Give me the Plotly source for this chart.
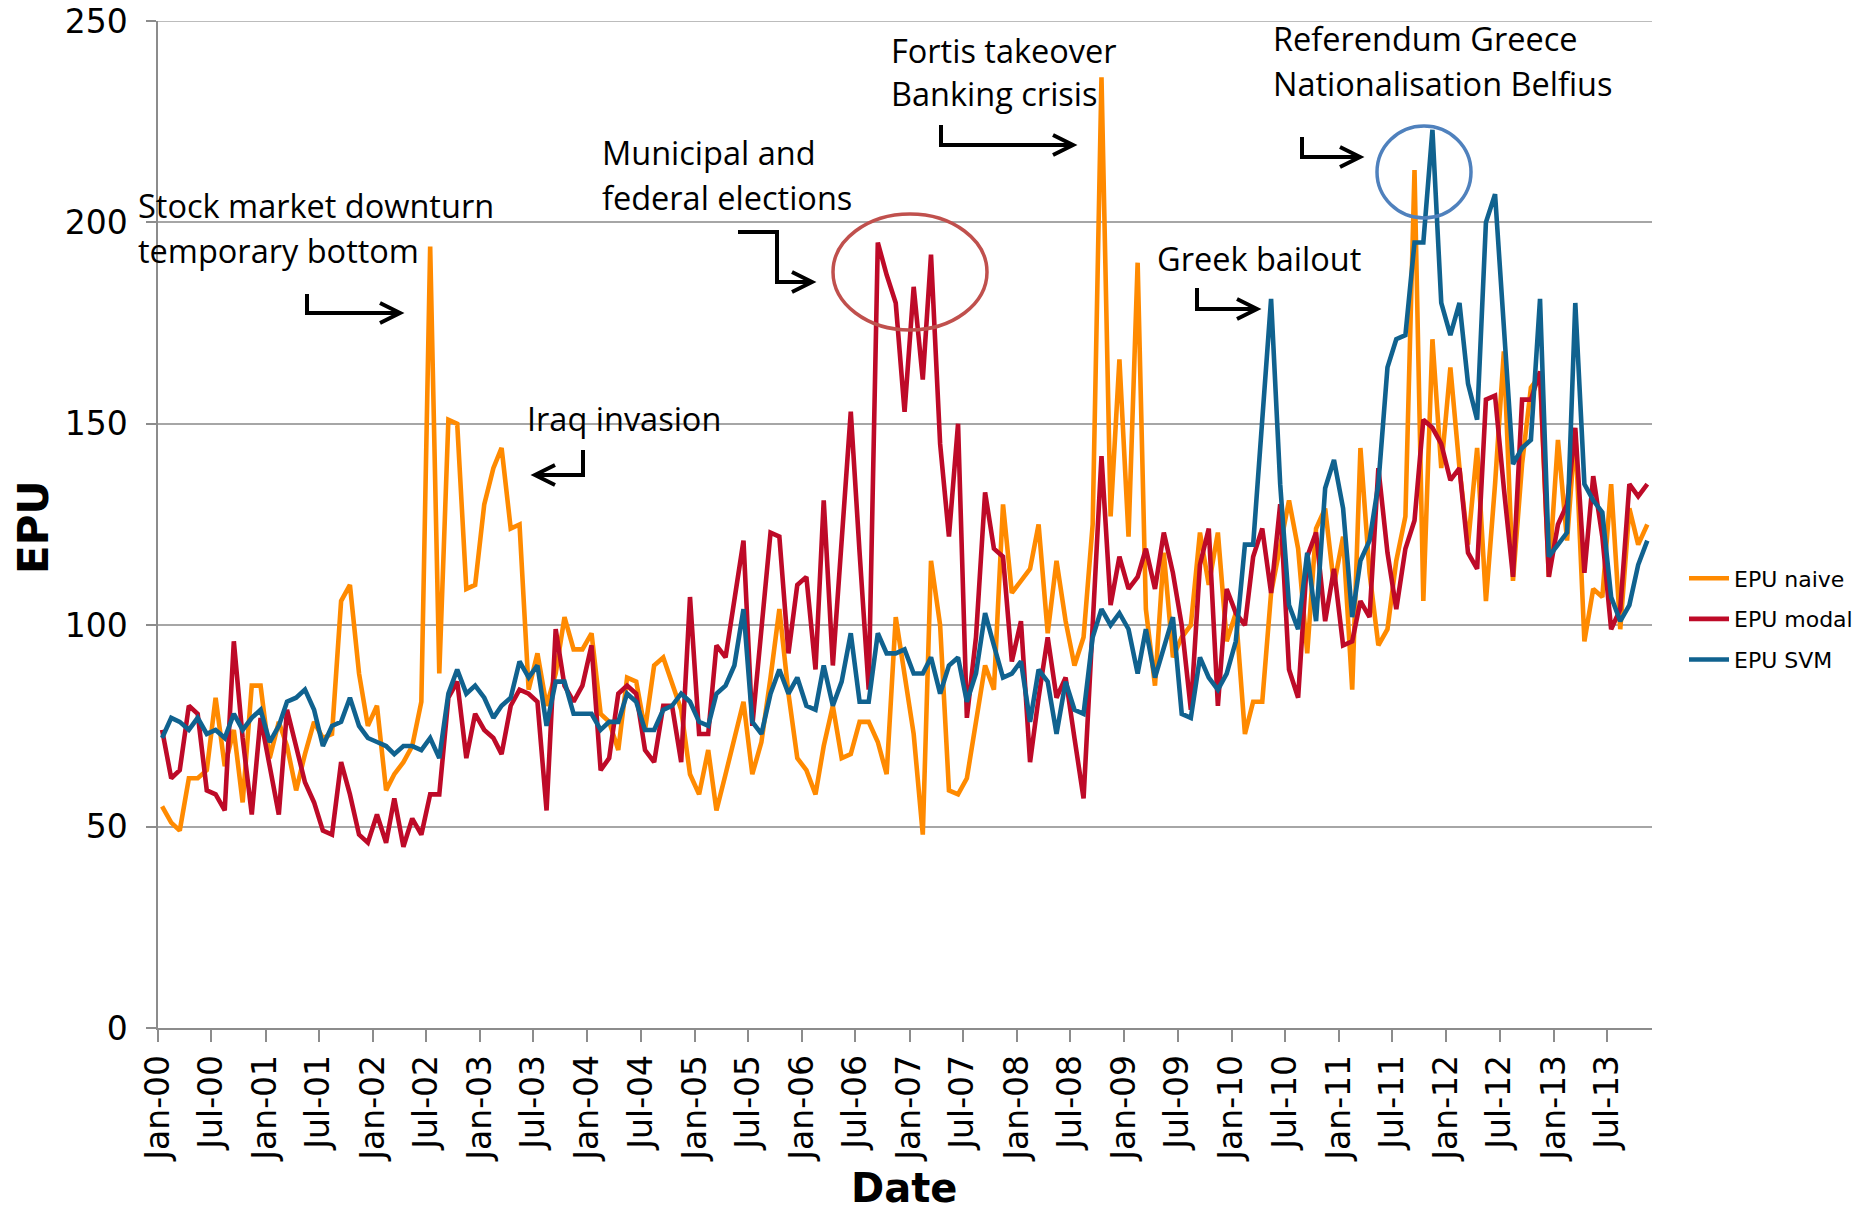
import pandas as pd
import plotly.graph_objects as go

# ---------------- data (monthly, Jan-2000 onwards) ----------------
epu_naive = [55, 51, 49, 62, 62, 64, 82, 65, 74, 56, 85, 85, 67, 76, 70, 59, 68, 76, 72, 73,
             106, 110, 88, 75, 80, 59, 63, 66, 70, 81, 194, 88, 151, 150, 109, 110, 130, 139, 144, 124,
             125, 84, 93, 80, 88, 102, 94, 94, 98, 78, 76, 69, 87, 86, 74, 90, 92, 86, 79, 63,
             58, 69, 54, 63, 72, 81, 63, 71, 87, 104, 83, 67, 64, 58, 70, 80, 67, 68, 76, 76,
             71, 63, 102, 87, 73, 48, 116, 100, 59, 58, 62, 76, 90, 84, 130, 108, 111, 114, 125, 98,
             116, 101, 90, 97, 125, 236, 127, 166, 122, 190, 104, 85, 118, 92, 97, 100, 123, 110, 123, 96,
             103, 73, 81, 81, 108, 120, 131, 119, 93, 124, 129, 110, 122, 84, 144, 113, 95, 99, 116, 127,
             213, 106, 171, 139, 164, 139, 120, 144, 106, 135, 168, 111, 140, 159, 162, 112, 146, 121, 148, 96,
             109, 107, 135, 99, 129, 120, 125]

epu_modal = [74, 62, 64, 80, 78, 59, 58, 54, 96, 72, 53, 77, 65, 53, 79, 70, 61, 56, 49, 48,
             66, 58, 48, 46, 53, 46, 57, 45, 52, 48, 58, 58, 82, 86, 67, 78, 74, 72, 68, 80,
             84, 83, 81, 54, 99, 85, 81, 85, 95, 64, 67, 83, 85, 83, 69, 66, 80, 80, 66, 107,
             73, 73, 95, 92, 106, 121, 75, 99, 123, 122, 93, 110, 112, 89, 131, 90, 122, 153, 118, 84,
             195, 187, 180, 153, 184, 161, 192, 145, 122, 150, 77, 97, 133, 119, 117, 91, 101, 66, 82, 97,
             82, 87, 72, 57, 100, 142, 105, 117, 109, 112, 119, 109, 123, 113, 100, 79, 115, 124, 80, 109,
             103, 100, 117, 124, 108, 130, 89, 82, 117, 123, 101, 114, 95, 96, 106, 102, 139, 118, 104, 119,
             126, 151, 149, 145, 136, 139, 118, 114, 156, 157, 134, 112, 156, 156, 163, 112, 125, 130, 149, 113,
             137, 122, 99, 104, 135, 132, 135]

epu_svm = [72, 77, 76, 74, 77, 73, 74, 72, 78, 74, 77, 79, 71, 75, 81, 82, 84, 79, 70, 75,
           76, 82, 75, 72, 71, 70, 68, 70, 70, 69, 72, 67, 83, 89, 83, 85, 82, 77, 80, 82,
           91, 87, 90, 75, 86, 86, 78, 78, 78, 74, 76, 76, 83, 81, 74, 74, 79, 80, 83, 81,
           76, 75, 83, 85, 90, 104, 76, 73, 83, 89, 83, 87, 80, 79, 90, 80, 86, 98, 81, 81,
           98, 93, 93, 94, 88, 88, 92, 83, 90, 92, 81, 88, 103, 95, 87, 88, 91, 76, 89, 86,
           73, 86, 79, 78, 97, 104, 100, 103, 99, 88, 99, 87, 94, 102, 78, 77, 92, 87, 84, 88,
           96, 120, 120, 150, 181, 135, 105, 99, 118, 101, 134, 141, 129, 102, 116, 121, 135, 164, 171, 172,
           195, 195, 223, 180, 172, 180, 160, 151, 200, 207, 172, 140, 144, 146, 181, 117, 120, 123, 180, 135,
           131, 128, 107, 101, 105, 115, 121]

series_names = ["EPU naive", "EPU modal", "EPU SVM"]
series_colors = ["#FF8A00", "#BE0A28", "#10628F"]
y_max = 250

dates = pd.date_range("2000-01-01", periods=len(epu_naive), freq="MS") + pd.Timedelta(days=14)

# ---------------- geometry helpers (page pixel -> paper) ----------------
W_FIG, H_FIG = 1873, 1215
L, R, T, B = 158, 1652, 21, 1028   # plot area in page pixels
PW, PH = R - L, B - T


def px(x):
    return (x - L) / PW


def py(y):
    return (B - y) / PH


fig = go.Figure()
for name, vals, col in zip(series_names, [epu_naive, epu_modal, epu_svm], series_colors):
    fig.add_trace(go.Scatter(x=dates, y=vals, mode="lines", name=name, legendgroup=name,
                             line=dict(color=col, width=4.6)))

# top gridline (at the axis maximum)
fig.add_shape(type="line", xref="paper", yref="y", x0=0, x1=1, y0=y_max, y1=y_max,
              line=dict(color="#A6A6A6", width=1.5), layer="below")

# ---------------- annotations ----------------
ann_font = dict(family="Open Sans", size=32.5, color="#000000")
texts = [
    ("Stock market downturn", 136, 205),
    ("temporary bottom", 136, 251),
    ("Iraq invasion", 525, 418),
    ("Municipal and", 600, 153),
    ("federal elections", 600, 197),
    ("Fortis takeover", 889, 50),
    ("Banking crisis", 889, 94),
    ("Referendum Greece", 1271, 39),
    ("Nationalisation Belfius", 1271, 84),
    ("Greek bailout", 1155, 258),
]
for t, x, y in texts:
    fig.add_annotation(text=t, x=px(x), y=py(y), xref="paper", yref="paper",
                       xanchor="left", yanchor="middle", showarrow=False, font=ann_font)

# axis titles
fig.add_annotation(text="<b>EPU</b>", x=px(33), y=py(527), xref="paper", yref="paper",
                   textangle=-90, showarrow=False, xanchor="center", yanchor="middle",
                   font=dict(family="DejaVu Sans", size=42, color="#000"))
fig.add_annotation(text="<b>Date</b>", x=px(904), y=py(1188), xref="paper", yref="paper",
                   showarrow=False, xanchor="center", yanchor="middle",
                   font=dict(family="DejaVu Sans", size=40, color="#000"))

# elbow arrows: polyline points (page pixels), last point is the tip
arrows = [
    [(307, 294), (307, 313), (400, 313)],
    [(583, 450), (583, 475), (535, 475)],
    [(738, 232), (777, 232), (777, 282), (812, 282)],
    [(941, 125), (941, 145), (1073, 145)],
    [(1302, 137), (1302, 157), (1360, 157)],
    [(1197, 288), (1197, 309), (1257, 309)],
]
for pts in arrows:
    path = "M " + " L ".join(f"{px(a)},{py(b)}" for a, b in pts)
    fig.add_shape(type="path", path=path, xref="paper", yref="paper",
                  line=dict(color="black", width=4))
    (x1, y1), (x2, y2) = pts[-2], pts[-1]
    dx, dy = x2 - x1, y2 - y1
    n = (dx * dx + dy * dy) ** 0.5
    ux, uy = dx / n, dy / n
    hl, hw = 20, 10
    bx, by = x2 - ux * hl, y2 - uy * hl
    p1 = (bx - uy * hw, by + ux * hw)
    p2 = (bx + uy * hw, by - ux * hw)
    head = f"M {px(p1[0])},{py(p1[1])} L {px(x2)},{py(y2)} L {px(p2[0])},{py(p2[1])}"
    fig.add_shape(type="path", path=head, xref="paper", yref="paper",
                  line=dict(color="black", width=4))

# highlight ellipses
fig.add_shape(type="circle", xref="paper", yref="paper",
              x0=px(833), x1=px(987), y0=py(330), y1=py(214),
              line=dict(color="#C0504D", width=3.5))
fig.add_shape(type="circle", xref="paper", yref="paper",
              x0=px(1377), x1=px(1471), y0=py(218), y1=py(126),
              line=dict(color="#4F81BD", width=3.5))

fig.update_layout(
    width=W_FIG, height=H_FIG,
    margin=dict(l=L, r=W_FIG - R, t=T, b=H_FIG - B, autoexpand=False),
    paper_bgcolor="white", plot_bgcolor="white",
    showlegend=True,
    legend=dict(x=px(1684), y=py(619), xanchor="left", yanchor="middle",
                font=dict(family="DejaVu Sans", size=22, color="#000"),
                tracegroupgap=9, itemwidth=40, bgcolor="rgba(0,0,0,0)"),
    xaxis=dict(
        type="date", range=["2000-01-01", "2013-12-01"],
        tick0="2000-01-01", dtick="M6", tickformat="%b-%y", tickangle=-90,
        showgrid=False, showline=True, linecolor="#8C8C8C", linewidth=1.5,
        ticks="outside", ticklen=12, tickwidth=1.5, tickcolor="#8C8C8C",
        tickfont=dict(family="DejaVu Sans", size=33, color="#000"),
        zeroline=False,
    ),
    yaxis=dict(
        range=[0, y_max], dtick=50, tick0=0,
        showgrid=True, gridcolor="#A6A6A6", gridwidth=1.5,
        showline=True, linecolor="#8C8C8C", linewidth=1.5,
        ticks="outside", ticklen=10, tickwidth=1.5, tickcolor="#8C8C8C",
        tickfont=dict(family="DejaVu Sans", size=33, color="#000"),
        ticklabelstandoff=12, ticklabeloverflow="allow",
        zeroline=False,
    ),
)

# remove the default page margin so the figure fills the window exactly
page_js = ("document.body.style.margin='0';"
           "document.body.style.overflow='hidden';"
           "document.documentElement.style.overflow='hidden';")
fig.write_html("out.html", post_script=page_js, config={"displayModeBar": False})
